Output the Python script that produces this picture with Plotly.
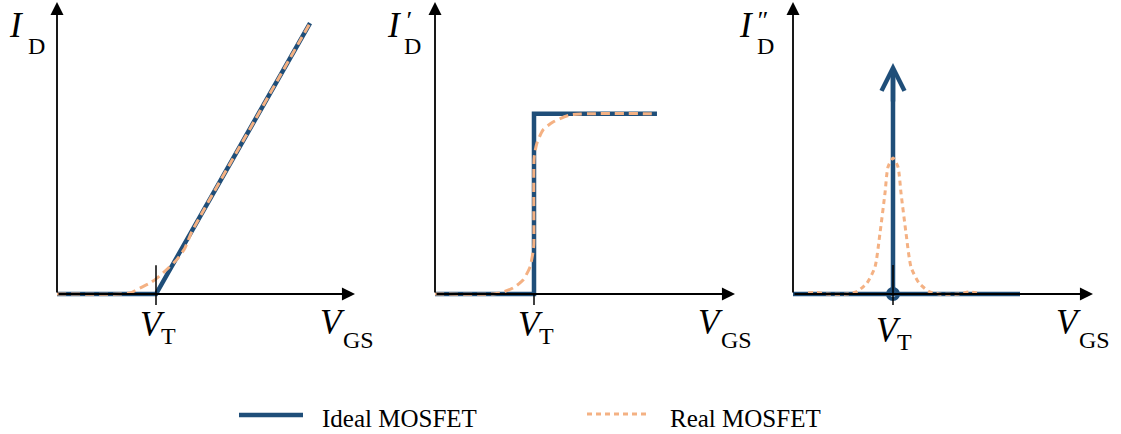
import plotly.graph_objects as go

W, H = 1121, 434
BLUE = "#1f4e79"
ORANGE = "#f4b183"
FONT = "Liberation Serif"

V_T = 1.0

# Panel 1: I_D versus V_GS
id_ideal_v = [0.0, 1.0, 2.556]
id_ideal = [0.0, 0.0, 2.737]
id_real_v = [0.0, 0.636, 0.737, 0.838, 0.939, 1.01, 1.111, 1.212, 1.29, 1.36, 1.9, 2.556]
id_real = [0.0, 0.0, 0.01, 0.06, 0.11, 0.16, 0.25, 0.35, 0.46, 0.625, 1.583, 2.737]

# Panel 2: first derivative I'_D
d1_ideal_v = [0.0, 1.0, 1.0, 2.242]
d1_ideal = [0.0, 0.0, 1.82, 1.82]
d1_real_v = [0.0, 0.586, 0.657, 0.788, 0.889, 0.96, 0.99, 0.998, 1.002, 1.03, 1.091, 1.192, 1.364, 2.242]
d1_real = [0.0, 0.0, 0.01, 0.06, 0.141, 0.273, 0.424, 0.495, 1.384, 1.525, 1.657, 1.737, 1.808, 1.82]

# Panel 3: second derivative I''_D (ideal is a delta spike at V_T)
d2_ideal_v = [0.0, 2.27]
d2_ideal = [0.0, 0.0]
d2_spike_top = 2.31
d2_real_v = [0.15, 0.24, 0.34, 0.54, 0.64, 0.74, 0.82, 0.87, 0.92, 0.95, 1.0,
             1.05, 1.08, 1.13, 1.18, 1.26, 1.36, 1.46, 1.66, 1.76, 1.84]
d2_real = [0.01, 0.015, 0.0, 0.0, 0.025, 0.11, 0.27, 0.61, 1.01, 1.27, 1.36,
           1.27, 1.01, 0.61, 0.27, 0.11, 0.025, 0.0, 0.0, 0.02, 0.01]

# panel placement: origin pixel, pixels per unit, horizontal pixel span
panels = [
    dict(ox=57, oy=294, s=99, left=0, right=378, xtip=355),
    dict(ox=435, oy=294, s=99, left=378, right=756, xtip=735),
    dict(ox=793, oy=294, s=100, left=756, right=1121, xtip=1093),
]
TOP_PX, BOTTOM_PX, YTIP_PX = 0, 380, 2


def paper(xp, yp):
    return xp / W, 1 - yp / H


fig = go.Figure()
layout_axes = {}
annotations = []
shapes = []

for i, p in enumerate(panels, start=1):
    sfx = "" if i == 1 else str(i)
    layout_axes["xaxis" + sfx] = dict(
        domain=[p["left"] / W, p["right"] / W],
        range=[(p["left"] - p["ox"]) / p["s"], (p["right"] - p["ox"]) / p["s"]],
        visible=False, anchor="y" + sfx,
    )
    layout_axes["yaxis" + sfx] = dict(
        domain=[1 - BOTTOM_PX / H, 1 - TOP_PX / H],
        range=[(p["oy"] - BOTTOM_PX) / p["s"], (p["oy"] - TOP_PX) / p["s"]],
        visible=False, anchor="x" + sfx,
    )
    xr, yr = "x" + sfx, "y" + sfx
    x_end = (p["xtip"] - p["ox"]) / p["s"]
    y_end = (p["oy"] - YTIP_PX) / p["s"]
    # coordinate axes with arrowheads
    for (tx, ty) in [(x_end, 0.0), (0.0, y_end)]:
        annotations.append(dict(
            x=tx, y=ty, ax=0.0, ay=0.0, xref=xr, yref=yr, axref=xr, ayref=yr,
            text="", showarrow=True, arrowhead=2, arrowsize=1.45,
            arrowwidth=1.8, arrowcolor="black",
        ))
    p["xr"], p["yr"] = xr, yr

# V_T tick marks
tick_spans = [(-0.11, 0.29), (-0.11, 0.0), (-0.11, 0.29)]

line_ideal = dict(color=BLUE, width=4.5)
line_real = dict(color=ORANGE, width=3, dash="9px,5px", shape="spline", smoothing=0.6)
line_real_dot = dict(color=ORANGE, width=3, dash="5px,4px", shape="spline", smoothing=0.6)

fig.add_trace(go.Scatter(x=id_ideal_v, y=id_ideal, mode="lines", line=line_ideal,
                         xaxis="x", yaxis="y", name="Ideal MOSFET"))
fig.add_trace(go.Scatter(x=id_real_v, y=id_real, mode="lines", line=line_real,
                         xaxis="x", yaxis="y", name="Real MOSFET"))

fig.add_trace(go.Scatter(x=d1_ideal_v, y=d1_ideal, mode="lines", line=line_ideal,
                         xaxis="x2", yaxis="y2"))
fig.add_trace(go.Scatter(x=d1_real_v, y=d1_real, mode="lines", line=line_real,
                         xaxis="x2", yaxis="y2"))

fig.add_trace(go.Scatter(x=d2_ideal_v, y=d2_ideal, mode="lines", line=line_ideal,
                         xaxis="x3", yaxis="y3"))
fig.add_trace(go.Scatter(x=[V_T, V_T], y=[0.0, d2_spike_top - 0.06], mode="lines",
                         line=line_ideal, xaxis="x3", yaxis="y3"))
fig.add_trace(go.Scatter(x=d2_real_v, y=d2_real, mode="lines", line=line_real_dot,
                         xaxis="x3", yaxis="y3"))
fig.add_trace(go.Scatter(x=[V_T], y=[0.0], mode="markers",
                         marker=dict(symbol="circle-open", size=10, color=BLUE,
                                     line=dict(color=BLUE, width=4)),
                         xaxis="x3", yaxis="y3"))

# arrowhead on the delta spike
annotations.append(dict(
    x=V_T, y=d2_spike_top, ax=V_T, ay=d2_spike_top - 0.4, xref="x3", yref="y3",
    axref="x3", ayref="y3", text="", showarrow=True, arrowhead=5, arrowsize=1.0,
    arrowwidth=4.5, arrowcolor=BLUE,
))

for p, (t0, t1) in zip(panels, tick_spans):
    shapes.append(dict(type="line", xref=p["xr"], yref=p["yr"], x0=V_T, x1=V_T, y0=t0, y1=t1,
                       line=dict(color="black", width=1.5), layer="above"))


def label(xp, yp, text, size, italic=False):
    x, y = paper(xp, yp)
    annotations.append(dict(
        x=x, y=y, xref="paper", yref="paper", xanchor="left", yanchor="middle",
        text=f"<i>{text}</i>" if italic else text, showarrow=False,
        font=dict(family=FONT, size=size, color="black"),
    ))


BIG, SUB, PRIME = 35, 24, 26
# y-axis titles
label(7, 26, "I", BIG, True)
label(26, 46, "D", SUB)
label(385, 26, "I", BIG, True)
label(403, 21, "′", PRIME, True)
label(402, 46, "D", SUB)
label(737, 26, "I", BIG, True)
label(754, 21, "″", PRIME, True)
label(755, 46, "D", SUB)

# V_T labels
for vx, vy in [(138, 324), (516, 324), (874, 330)]:
    label(vx, vy, "V", BIG, True)
    label(vx + 21, vy + 12, "T", SUB)

# V_GS labels
for gx, gy in [(318, 322), (696, 322), (1054, 322)]:
    label(gx, gy, "V", BIG, True)
    label(gx + 23, gy + 18, "GS", SUB)

# legend
lx0, ly0 = paper(239, 415)
lx1, _ = paper(303, 415)
shapes.append(dict(type="line", xref="paper", yref="paper", x0=lx0, x1=lx1, y0=ly0, y1=ly0,
                   line=dict(color=BLUE, width=4.5)))
label(320, 418, "Ideal MOSFET", 25)
ox0, oy0 = paper(587, 414)
ox1, _ = paper(649, 414)
shapes.append(dict(type="line", xref="paper", yref="paper", x0=ox0, x1=ox1, y0=oy0, y1=oy0,
                   line=dict(color=ORANGE, width=3, dash="5px,4px")))
label(668, 418, "Real MOSFET", 25)

fig.update_layout(
    width=W, height=H, margin=dict(l=0, r=0, t=0, b=0),
    paper_bgcolor="white", plot_bgcolor="white",
    showlegend=False, annotations=annotations, shapes=shapes,
    **layout_axes,
)

fig.write_html("out.html")
